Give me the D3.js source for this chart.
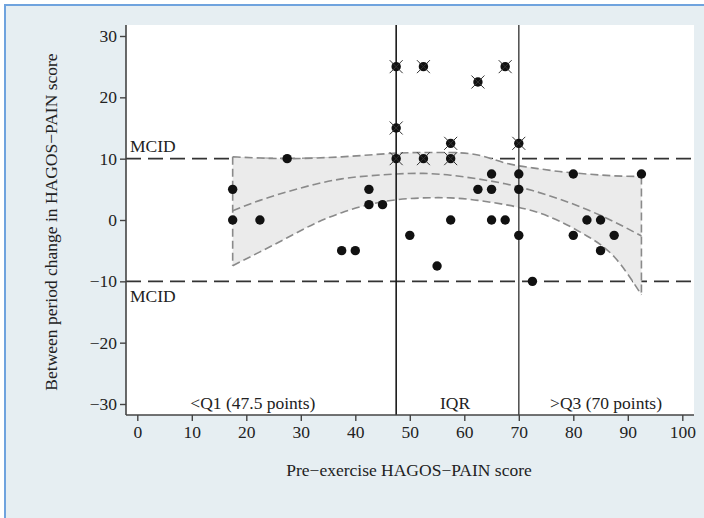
<!DOCTYPE html>
<html><head><meta charset="utf-8">
<script src="https://cdn.jsdelivr.net/npm/d3@7"></script>
<style>
html,body{margin:0;padding:0;background:#fff;}
svg{display:block;}
text{font-family:"Liberation Serif","Times New Roman",serif;fill:#222;}
</style></head>
<body>
<script>
// ---- data ----
const pointX = [17.5,17.5,22.5,27.5,37.5,40,42.5,42.5,45,47.5,47.5,47.5,50,52.5,52.5,55,57.5,57.5,57.5,62.5,62.5,65,65,65,67.5,67.5,70,70,70,70,72.5,80,80,82.5,85,85,87.5,92.5];
const pointY = [5,0,0,10,-5,-5,5,2.5,2.5,10,15,25,-2.5,25,10,-7.5,12.5,10,0,22.5,5,7.5,5,0,0,25,12.5,7.5,5,-2.5,-10,7.5,-2.5,0,0,-5,-2.5,7.5];
const pointCrossed = [0,0,0,0,0,0,0,0,0,1,1,1,0,1,1,0,1,1,0,1,0,0,0,0,0,1,1,0,0,0,0,0,0,0,0,0,0,0];
const fitX =     [17.5,22.5,27.5,32.5,37.5,42.5,47.5,52.5,57.5,62.5,67.5,72.5,77.5,82.5,87.5,92.5];
const fitMid =   [1.5,3.2,4.6,5.8,6.7,7.2,7.5,7.6,7.3,6.7,5.9,4.8,3.4,1.7,-0.3,-2.6];
const fitUpper = [10.3,10.1,10.0,10.1,10.3,10.6,10.9,11.0,11.0,10.6,9.3,8.5,7.9,7.5,7.2,7.1];
const fitLower = [-7.45,-5.2,-2.9,-0.6,1.2,2.5,3.3,3.6,3.6,3.2,2.5,1.5,-0.2,-2.6,-6.0,-12.2];
const xTicks = [0,10,20,30,40,50,60,70,80,90,100];
const yTicks = [-30,-20,-10,0,10,20,30];
const mcidLevels = [10,-10];
const quartiles = [47.5,70];
const regionLabels = ["<Q1 (47.5 points)","IQR",">Q3 (70 points)"];
const regionLabelX = [21.2,58.3,86.0];
const xTitle = "Pre\u2212exercise HAGOS\u2212PAIN score";
const yTitle = "Between period change in HAGOS\u2212PAIN score";

// ---- layout ----
const W = 704, H = 518;
const FS = 17.5;
const plot = {l:126, r:694, t:25, b:415};
const x = d3.scaleLinear().domain([0,100]).range([137.3,682.3]);
const y = d3.scaleLinear().domain([-30,30]).range([404,36]);

const svg = d3.select("body").append("svg").attr("width",W).attr("height",H);
svg.append("rect").attr("width",W).attr("height",H).attr("fill","#fff");
svg.append("rect").attr("x",5).attr("y",5).attr("width",W-5).attr("height",H-5).attr("fill","#e6eef2");
svg.append("path").attr("d",`M5,${H} L5,5 L${W},5`).attr("fill","none").attr("stroke","#6fa3de").attr("stroke-width",2);
svg.append("rect").attr("x",plot.l).attr("y",plot.t).attr("width",plot.r-plot.l).attr("height",plot.b-plot.t).attr("fill","#fff");

// MCID lines
svg.selectAll(".mcid").data(mcidLevels).join("line")
  .attr("x1",plot.l).attr("x2",plot.r).attr("y1",d=>y(d)).attr("y2",d=>y(d))
  .attr("stroke","#333").attr("stroke-width",1.6).attr("stroke-dasharray","15,7");

// band
const fit = fitX.map((v,i)=>({x:v,m:fitMid[i],u:fitUpper[i],lo:fitLower[i]}));
const area = d3.area().x(d=>x(d.x)).y0(d=>y(d.lo)).y1(d=>y(d.u)).curve(d3.curveNatural);
svg.append("path").attr("d",area(fit)).attr("fill","#ebebeb");
const lineU = d3.line().x(d=>x(d.x)).y(d=>y(d.u)).curve(d3.curveNatural);
const lineL = d3.line().x(d=>x(d.x)).y(d=>y(d.lo)).curve(d3.curveNatural);
const lineM = d3.line().x(d=>x(d.x)).y(d=>y(d.m)).curve(d3.curveNatural);
const dashStyle = s => s.attr("fill","none").attr("stroke","#8a8a8a").attr("stroke-width",1.6).attr("stroke-dasharray","8,4");
svg.append("path").attr("d",lineU(fit)).call(dashStyle);
svg.append("path").attr("d",lineL(fit)).call(dashStyle);
svg.append("path").attr("d",lineM(fit)).call(dashStyle);
const f0 = fit[0], f1 = fit[fit.length-1];
svg.append("line").attr("x1",x(f0.x)).attr("x2",x(f0.x)).attr("y1",y(f0.u)).attr("y2",y(f0.lo)).call(dashStyle);
svg.append("line").attr("x1",x(f1.x)).attr("x2",x(f1.x)).attr("y1",y(f1.u)).attr("y2",y(f1.lo)).call(dashStyle);

// quartile lines
svg.selectAll(".q").data(quartiles).join("line")
  .attr("x1",d=>x(d)).attr("x2",d=>x(d)).attr("y1",plot.t).attr("y2",plot.b)
  .attr("stroke",(d,i)=>i===0?"#1a1a1a":"#555").attr("stroke-width",1.6);

// points
const pts = pointX.map((v,i)=>({x:v,y:pointY[i],c:pointCrossed[i]}));
svg.selectAll(".pt").data(pts).join("circle")
  .attr("cx",d=>x(d.x)).attr("cy",d=>y(d.y)).attr("r",4.7).attr("fill","#111");
const cr = 6.5;
svg.selectAll(".cr").data(pts.filter(d=>d.c)).join("path")
  .attr("d",d=>{const cx=x(d.x),cy=y(d.y);return `M${cx-cr},${cy-cr}L${cx+cr},${cy+cr}M${cx-cr},${cy+cr}L${cx+cr},${cy-cr}`;})
  .attr("stroke","#333").attr("stroke-width",1).attr("fill","none");

// axes
svg.append("line").attr("x1",plot.l).attr("x2",plot.l).attr("y1",plot.t).attr("y2",plot.b).attr("stroke","#444").attr("stroke-width",1.6);
svg.append("line").attr("x1",plot.l).attr("x2",plot.r).attr("y1",plot.b).attr("y2",plot.b).attr("stroke","#444").attr("stroke-width",1.6);
const yAxis = svg.append("g").attr("transform",`translate(${plot.l},0)`)
  .call(d3.axisLeft(y).tickValues(yTicks).tickSize(6).tickPadding(3));
yAxis.select(".domain").remove();
const xAxis = svg.append("g").attr("transform",`translate(0,${plot.b})`)
  .call(d3.axisBottom(x).tickValues(xTicks).tickSize(6).tickPadding(5));
xAxis.select(".domain").remove();
svg.selectAll(".tick line").attr("stroke","#444").attr("stroke-width",1.4);
svg.selectAll(".tick text").attr("font-family","Liberation Serif").attr("font-size",FS).attr("fill","#222");

// labels
svg.append("text").attr("x",plot.l+4).attr("y",y(10)-6.5).attr("font-size",FS).text("MCID");
svg.append("text").attr("x",plot.l+4).attr("y",y(-10)+21).attr("font-size",FS).text("MCID");
svg.selectAll(".rl").data(regionLabels).join("text")
  .attr("x",(d,i)=>x(regionLabelX[i])).attr("y",plot.b-6).attr("text-anchor","middle").attr("font-size",FS).text(d=>d);
svg.append("text").attr("x",409).attr("y",476).attr("text-anchor","middle").attr("font-size",FS).text(xTitle);
svg.append("text").attr("transform",`translate(57,222) rotate(-90)`).attr("text-anchor","middle").attr("font-size",FS).text(yTitle);
</script>
</body></html>
